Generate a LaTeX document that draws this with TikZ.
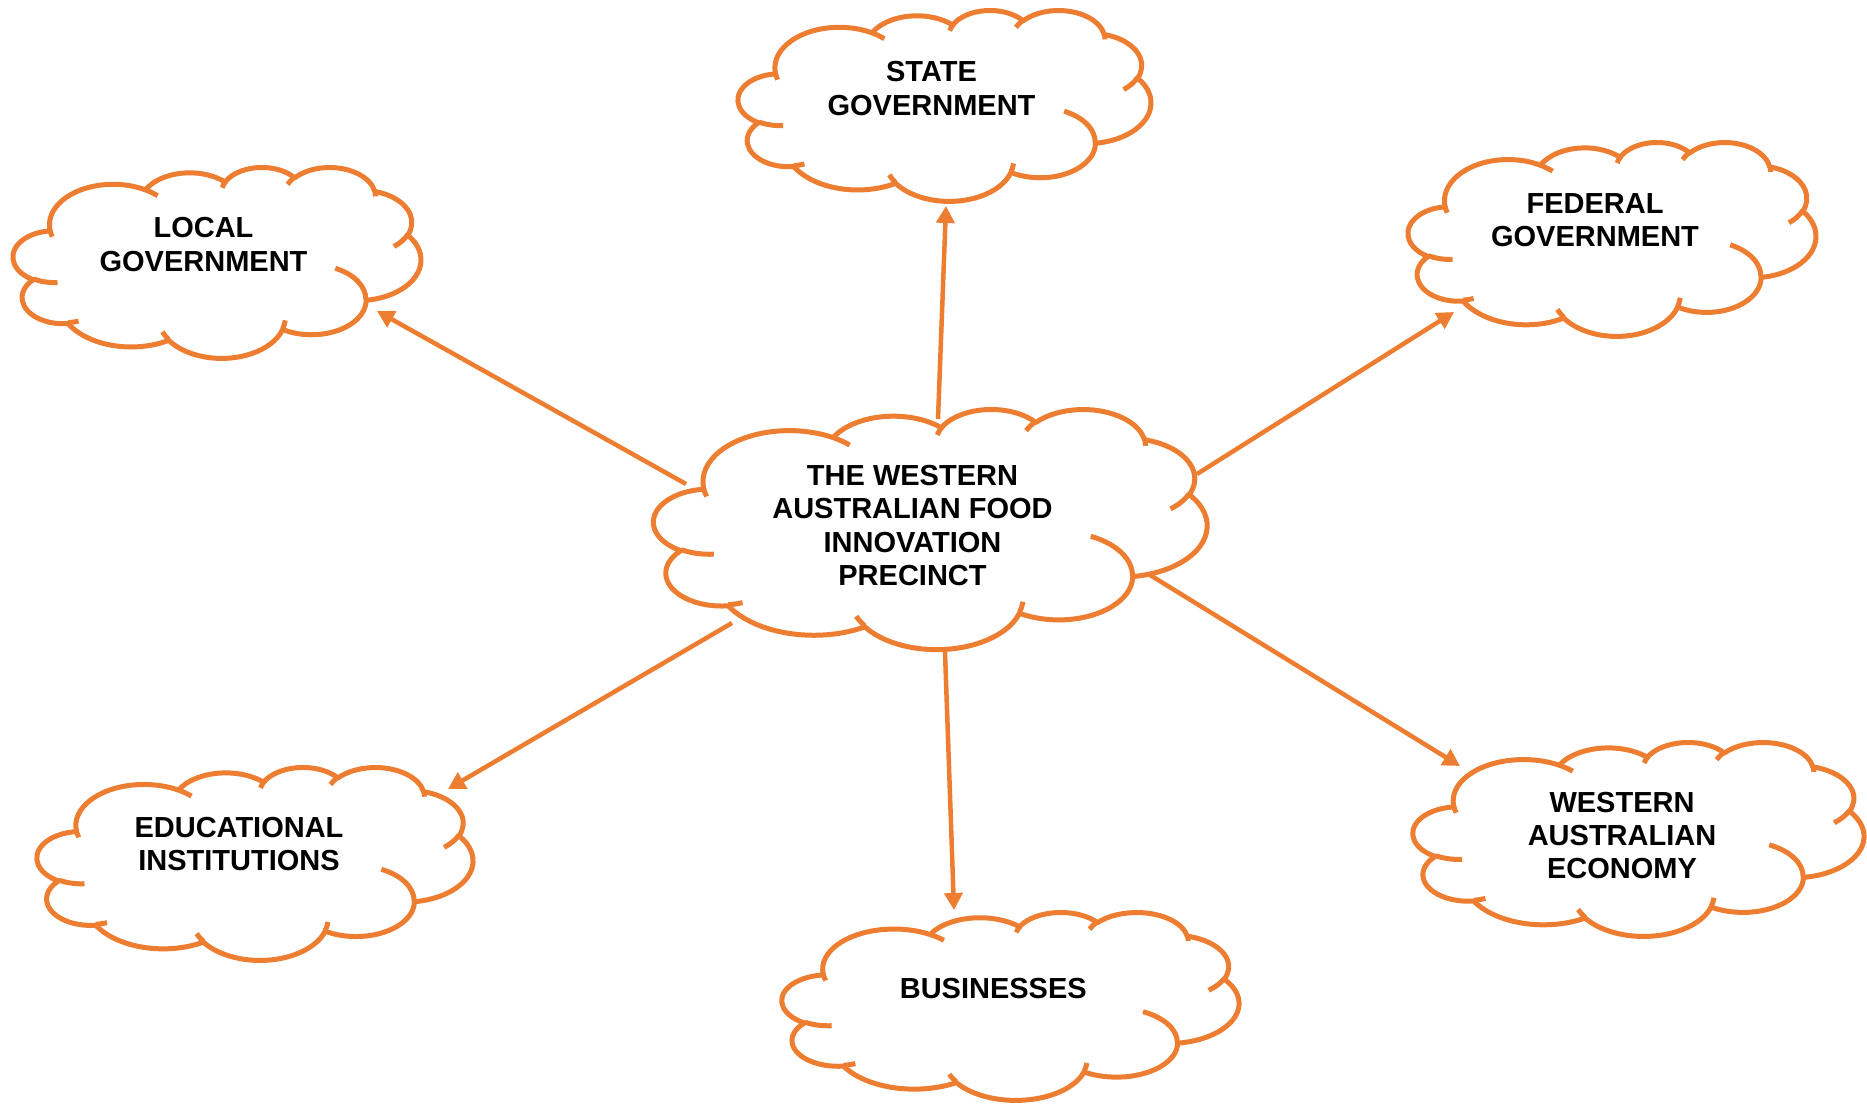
\documentclass[tikz,border=0pt]{standalone}
\usepackage{fontspec}
\setmainfont{Liberation Sans}
\usetikzlibrary{arrows.meta}
\definecolor{cloudorange}{HTML}{ED7D31}

% convert DrawingML visual arc angles to parametric angles
\newcommand\oodef[5]{%
  \pgfmathparse{(#4)+mod(atan2((#2)*sin(#4),(#3)*cos(#4))-(#4)+900,360)-180}%
  \expandafter\xdef\csname oos#1\endcsname{\pgfmathresult}%
  \pgfmathparse{(#4)+(#5)}\let\oott\pgfmathresult
  \pgfmathparse{(\oott)+mod(atan2((#2)*sin(\oott),(#3)*cos(\oott))-(\oott)+900,360)-180}%
  \expandafter\xdef\csname ooe#1\endcsname{\pgfmathresult}%
}
\oodef{a}{6.753}{9.190}{-190.48748}{123.78053}
\oodef{b}{5.333}{7.267}{-144.10238}{89.94523}
\oodef{c}{4.365}{5.945}{-145.80792}{99.72302}
\oodef{d}{4.857}{6.595}{-130.98607}{117.24173}
\oodef{e}{5.333}{7.273}{-78.70888}{109.02692}
\oodef{f}{6.775}{9.220}{-46.26725}{130.26900}
\oodef{g}{5.785}{7.867}{0.62502}{114.03333}
\oodef{h}{6.752}{9.215}{22.45160}{115.17255}
\oodef{i}{7.720}{10.543}{66.24263}{75.71102}
\oodef{j}{4.360}{5.918}{-274.94208}{146.73557}
\oodef{k}{4.345}{5.945}{-246.82850}{152.51885}
\oodef{A}{4.345}{5.945}{86.74200}{26.42950}
\oodef{B}{4.360}{5.918}{73.61047}{11.44747}
\oodef{C}{6.752}{9.215}{137.62415}{14.08110}
\oodef{D}{6.752}{9.215}{6.45327}{15.99835}
\oodef{E}{5.785}{7.867}{-70.29235}{70.91737}
\oodef{F}{5.333}{7.273}{30.31803}{27.75150}
\oodef{G}{4.857}{6.595}{-13.74433}{14.85890}
\oodef{H}{4.857}{6.595}{-149.18145}{18.19537}
\oodef{I}{4.365}{5.945}{-163.49427}{17.68635}
\oodef{J}{6.753}{9.190}{-66.70695}{12.31935}
\oodef{K}{6.753}{9.190}{157.65435}{11.85817}
\newcommand\ooarc[3]{arc[start angle=\csname oos#1\endcsname, end angle=\csname ooe#1\endcsname, x radius=#2, y radius=#3]}

% cloud whose visible outline spans (#1,#2)-(#3,#4), y downwards
\newcommand\drawcloud[4]{%
  \pgfmathsetmacro\clX{#1+2.5}%
  \pgfmathsetmacro\clY{#2+2.5}%
  \pgfmathsetmacro\clSX{(#3-#1-5)/43.03}%
  \pgfmathsetmacro\clSY{(#4-#2-5)/43.011}%
  \begin{scope}[shift={(\clX-0.134*\clSX,\clY-0.143*\clSY)}, xscale=\clSX, yscale=\clSY]
    \filldraw[cloudline, fill=white] (3.900,14.370) \ooarc{a}{6.753}{9.190} \ooarc{b}{5.333}{7.267}
      \ooarc{c}{4.365}{5.945} \ooarc{d}{4.857}{6.595} \ooarc{e}{5.333}{7.273}
      \ooarc{f}{6.775}{9.220} \ooarc{g}{5.785}{7.867} \ooarc{h}{6.752}{9.215}
      \ooarc{i}{7.720}{10.543} \ooarc{j}{4.360}{5.918} \ooarc{k}{4.345}{5.945} -- cycle;
    \draw[cloudline] (4.693,26.177) \ooarc{A}{4.345}{5.945}
      (6.928,34.899) \ooarc{B}{4.360}{5.918}
      (16.478,39.090) \ooarc{C}{6.752}{9.215}
      (28.827,34.751) \ooarc{D}{6.752}{9.215}
      (34.129,22.954) \ooarc{E}{5.785}{7.867}
      (41.798,15.354) \ooarc{F}{5.333}{7.273}
      (38.324,5.426) \ooarc{G}{4.857}{6.595}
      (29.078,3.952) \ooarc{H}{4.857}{6.595}
      (22.141,4.720) \ooarc{I}{4.365}{5.945}
      (14.000,5.192) \ooarc{J}{6.753}{9.190}
      (4.127,15.789) \ooarc{K}{6.753}{9.190};
  \end{scope}}

\begin{document}
\begin{tikzpicture}[x=1pt, y=-1pt,
  cloudline/.style={draw=cloudorange, line width=5pt, line join=round},
  cloudtext/.style={align=center, inner sep=0pt, text=black,
    font=\fontsize{29}{33.3}\selectfont\bfseries},
  link/.style={draw=cloudorange, line width=4.5pt,
    -{Triangle[length=17pt, width=18pt]}}]
\useasboundingbox (0,0) rectangle (1867,1105);
\fill[white] (0,0) rectangle (1867,1105);

% clouds
\drawcloud{737}{8}{1153}{203}
\drawcloud{12}{165}{423}{360}
\drawcloud{1407}{140}{1818}{338}
\drawcloud{653}{407}{1209}{651}
\drawcloud{36}{765}{475}{962}
\drawcloud{781}{910}{1241}{1102}
\drawcloud{1412}{740}{1866}{938}

% texts
\node[cloudtext] (state) at (931.5,88.5) {STATE\\GOVERNMENT};
\node[cloudtext] (local) at (203.5,244.5) {LOCAL\\GOVERNMENT};
\node[cloudtext] (federal) at (1595,220) {FEDERAL\\GOVERNMENT};
\node[cloudtext] (hub) at (912.5,525.5) {THE WESTERN\\AUSTRALIAN FOOD\\INNOVATION\\PRECINCT};
\node[cloudtext] (edu) at (239,843.7) {EDUCATIONAL\\INSTITUTIONS};
\node[cloudtext] (bus) at (993.3,988.3) {BUSINESSES};
\node[cloudtext] (wae) at (1622,835.5) {WESTERN\\AUSTRALIAN\\ECONOMY};

% connector ends
\coordinate (hub-n) at ([shift={(25.5,-106.5)}]hub.center);
\coordinate (hub-nw) at ([shift={(-226.5,-41.5)}]hub.center);
\coordinate (hub-ne) at ([shift={(284.5,-51.5)}]hub.center);
\coordinate (hub-sw) at ([shift={(-180.5,97.5)}]hub.center);
\coordinate (hub-s) at ([shift={(32.5,126.5)}]hub.center);
\coordinate (hub-se) at ([shift={(237.5,49.5)}]hub.center);
\coordinate (state-in) at ([shift={(14.5,117.5)}]state.center);
\coordinate (local-in) at ([shift={(173.5,66.5)}]local.center);
\coordinate (federal-in) at ([shift={(-141,92)}]federal.center);
\coordinate (edu-in) at ([shift={(209,-54.7)}]edu.center);
\coordinate (bus-in) at ([shift={(-39.3,-78.3)}]bus.center);
\coordinate (wae-in) at ([shift={(-162,-69.5)}]wae.center);

% connectors
\draw[link] (hub-n) -- (state-in);
\draw[link] (hub-nw) -- (local-in);
\draw[link] (hub-ne) -- (federal-in);
\draw[link] (hub-sw) -- (edu-in);
\draw[link] (hub-s) -- (bus-in);
\draw[link] (hub-se) -- (wae-in);
\end{tikzpicture}
\end{document}
